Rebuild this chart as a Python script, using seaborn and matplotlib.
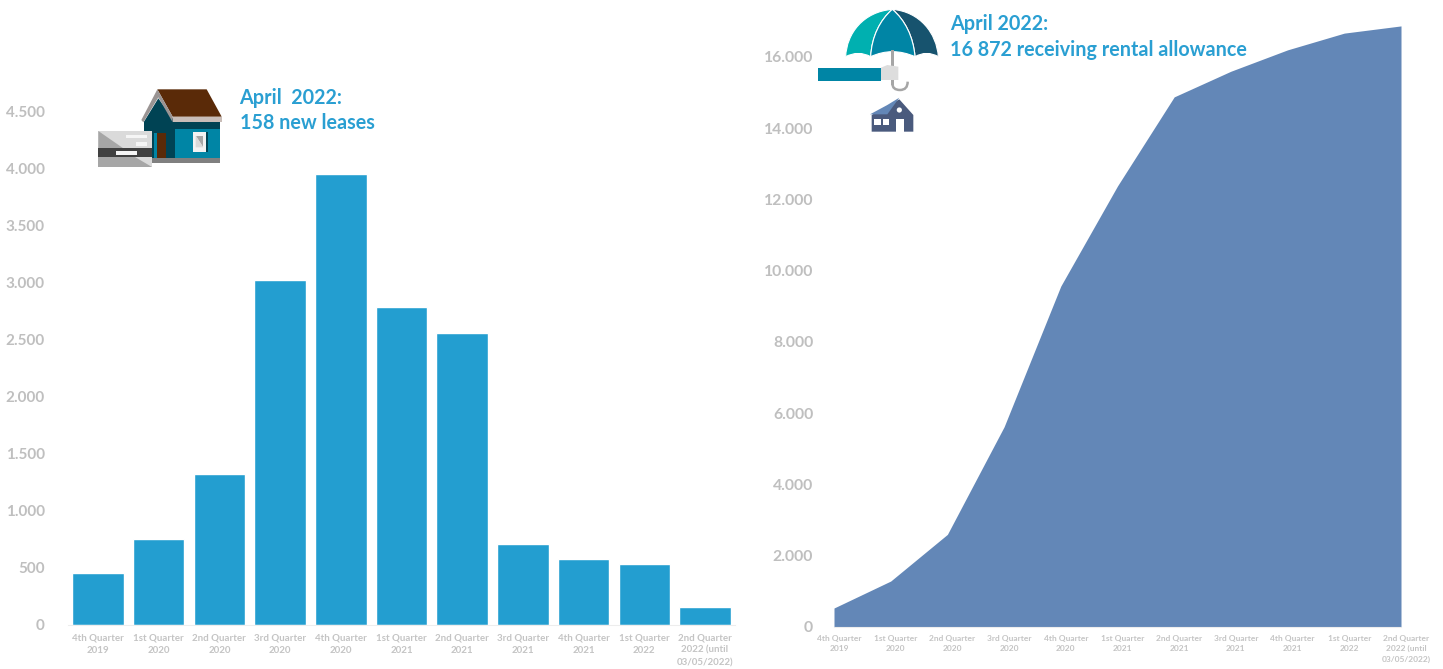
import numpy as np
import pandas as pd
import matplotlib
matplotlib.use("Agg")
import matplotlib.pyplot as plt
import seaborn as sns
from matplotlib.patches import Polygon, PathPatch, Circle
from matplotlib.path import Path
from matplotlib.transforms import ScaledTranslation

categories = ["4th Quarter\n2019", "1st Quarter\n2020", "2nd Quarter\n2020", "3rd Quarter\n2020",
              "4th Quarter\n2020", "1st Quarter\n2021", "2nd Quarter\n2021", "3rd Quarter\n2021",
              "4th Quarter\n2021", "1st Quarter\n2022", "2nd Quarter\n2022 (until\n03/05/2022)"]
new_leases = [455, 753, 1322, 3020, 3950, 2785, 2557, 709, 578, 534, 158]
allowance = [533, 1290, 2600, 5620, 9570, 12380, 14880, 15600, 16200, 16670, 16872]
left_ticks = [0, 500, 1000, 1500, 2000, 2500, 3000, 3500, 4000, 4500]
left_ticklabels = ["0", "500", "1.000", "1.500", "2.000", "2.500", "3.000", "3.500", "4.000", "4.500"]
right_ticks = [0, 2000, 4000, 6000, 8000, 10000, 12000, 14000, 16000]
right_ticklabels = ["0", "2.000", "4.000", "6.000", "8.000", "10.000", "12.000", "14.000", "16.000"]

W, H = 1443, 669
GREY = "#BFBFBF"
LABEL = "#C4C4C4"
BLUE = "#239ED0"
AREA = "#6387B7"
TXT = "#2A9FD2"

sns.set_theme(style="white")
plt.rcParams["font.family"] = ["Lato", "DejaVu Sans"]

fig = plt.figure(figsize=(W / 100, H / 100), dpi=100, facecolor="white")

def axes_px(x0, x1, ytop, ybot):
    return fig.add_axes([x0 / W, 1 - ybot / H, (x1 - x0) / W, (ybot - ytop) / H])

# ---- left chart
ax1 = axes_px(67.65, 735.35, 54, 625)
df = pd.DataFrame({"quarter": categories, "leases": new_leases})
sns.barplot(data=df, x="quarter", y="leases", color=BLUE, saturation=1, width=0.85, ax=ax1)
ax1.set_xlim(-0.5, 10.5)
ax1.set_ylim(0, 5000)
ax1.set_xlabel("")
ax1.set_ylabel("")
ax1.set_yticks(left_ticks, left_ticklabels)
ax1.set_xticks(np.arange(-0.5, 11, 1), minor=True)
ax1.tick_params(axis="x", which="major", length=0, pad=6, labelsize=7, labelcolor=LABEL)
ax1.tick_params(axis="x", which="minor", length=3, width=0.8, color="#EDEDED")
ax1.tick_params(axis="y", length=0, pad=16.5, labelsize=11, labelcolor=GREY)
for t in ax1.get_xticklabels():
    t.set_fontweight("bold")
    t.set_linespacing(1.5)
for t in ax1.get_yticklabels():
    t.set_fontweight("bold")

# ---- right chart
ax2 = axes_px(834, 1401, 21, 627)
xs = np.arange(len(categories))
sns.lineplot(x=xs, y=allowance, color=AREA, lw=0, ax=ax2)
ax2.fill_between(xs, allowance, 0, color=AREA, lw=0)
ax2.set_xlim(0, 10)
ax2.set_ylim(0, 17010)
ax2.set_yticks(right_ticks, right_ticklabels)
ax2.set_xticks(xs, categories)
ax2.tick_params(axis="x", length=3, width=0.8, color="#EDEDED", pad=2.5, labelsize=6, labelcolor=LABEL)
ax2.tick_params(axis="y", length=0, pad=15, labelsize=11.3, labelcolor=GREY)
shift = ScaledTranslation(5 / 100, 0, fig.dpi_scale_trans)
for t in ax2.get_xticklabels():
    t.set_fontweight("bold")
    t.set_linespacing(1.6)
    t.set_transform(t.get_transform() + shift)
for t in ax2.get_yticklabels():
    t.set_fontweight("bold")

for ax in (ax1, ax2):
    sns.despine(ax=ax, left=True)
    ax.spines["bottom"].set_color("#EDEDED")
    ax.spines["bottom"].set_linewidth(0.8)
    ax.patch.set_alpha(0)

# ---- overlay in pixel coordinates for the icons and captions
ov = fig.add_axes([0, 0, 1, 1], zorder=5)
ov.set_xlim(0, W)
ov.set_ylim(H, 0)
ov.axis("off")

def poly(org, pts, c, z=6):
    ov.add_patch(Polygon([(org[0] + x / 3, org[1] + y / 3) for x, y in pts], closed=True,
                         fc=c, ec="none", zorder=z))

def box(org, x0, y0, x1, y1, c, z=6):
    poly(org, [(x0, y0), (x1, y0), (x1, y1), (x0, y1)], c, z)

def curve(org, verts, codes, fc, ec="none", lw=0, z=6):
    v = [(org[0] + x / 3, org[1] + y / 3) for x, y in verts]
    ov.add_patch(PathPatch(Path(v, codes), fc=fc, ec=ec, lw=lw, zorder=z))

# house and card
o1 = (80, 70)
box(o1, 215, 264, 420, 278, "#808080")
poly(o1, [(192, 155), (235, 85), (285, 155), (285, 264), (192, 264)], "#004354")
box(o1, 285, 175, 420, 264, "#0085A5")
box(o1, 278, 155, 420, 178, "#004354")
poly(o1, [(232, 58), (380, 58), (425, 140), (278, 140)], "#5A2A08")
box(o1, 278, 140, 425, 157, "#C9BDB8")
poly(o1, [(232, 58), (278, 140), (278, 157), (235, 82), (190, 157), (184, 150)], "#9A9493")
box(o1, 222, 188, 232, 264, "#0085A5")
box(o1, 232, 188, 258, 264, "#5A2A08")
box(o1, 340, 185, 378, 245, "#F2F2F2")
box(o1, 378, 185, 384, 245, "#004354")
poly(o1, [(347, 197), (370, 197), (370, 232)], "#A6A6A6")
poly(o1, [(347, 197), (370, 232), (347, 232)], "#D9D9D9")
box(o1, 55, 183, 215, 235, "#DADADA", 7)
poly(o1, [(55, 183), (130, 235), (55, 235)], "#A6A6A6", 7)
box(o1, 138, 195, 200, 205, "#F5F5F5", 7)
box(o1, 168, 215, 200, 228, "#F5F5F5", 7)
box(o1, 55, 235, 215, 262, "#404040", 7)
box(o1, 108, 243, 170, 255, "#F5F5F5", 7)
box(o1, 55, 262, 215, 290, "#A6A6A6", 7)
poly(o1, [(165, 262), (215, 262), (215, 290)], "#DADADA", 7)

# umbrella
o2 = (800, 0)
C4, C3, M = Path.CURVE4, Path.CURVE3, Path.MOVETO
curve(o2, [(277, 28), (190, 35), (140, 100), (137, 170), (175, 150), (212, 170), (215, 110), (240, 60), (277, 28)],
      [M, C4, C4, C4, C3, C3, C4, C4, C4], "#00B0B0", "white", 0.8)
curve(o2, [(277, 28), (360, 35), (410, 100), (415, 170), (380, 150), (345, 170), (340, 110), (315, 60), (277, 28)],
      [M, C4, C4, C4, C3, C3, C4, C4, C4], "#17536E", "white", 0.8)
curve(o2, [(277, 28), (240, 60), (215, 110), (212, 170), (277, 140), (345, 170), (340, 110), (315, 60), (277, 28)],
      [M, C4, C4, C4, C3, C3, C4, C4, C4], "#0085A5", "white", 0.8)
box(o2, 273, 150, 281, 255, "#A6A6A6")
curve(o2, [(277, 250), (277, 270), (300, 270), (323, 270), (323, 245)], [M, C3, C3, C3, C3], "none", "#A6A6A6", 1.8)
box(o2, 54, 204, 243, 242, "#0085A5")
poly(o2, [(243, 203), (262, 195), (295, 200), (295, 240), (243, 240)], "#DDDDDD", 7)
poly(o2, [(215, 345), (298, 298), (340, 345), (340, 395), (215, 395)], "#4A5A7D")
poly(o2, [(210, 343), (262, 315), (298, 293), (262, 343)], AREA, 7)
box(o2, 223, 358, 243, 375, "white", 7)
box(o2, 250, 358, 268, 375, "white", 7)
box(o2, 288, 358, 312, 395, "white", 7)
ov.add_patch(Circle((800 + 298 / 3, 330 / 3), 2.6, fc="white", ec="none", zorder=7))

cap = dict(color=TXT, fontsize=14.2, fontweight="bold", va="baseline", ha="left", zorder=8)
ov.text(239.5, 104, "April  2022:", **cap)
ov.text(239.5, 129, "158 new leases", **cap)
ov.text(950, 30, "April 2022:", **cap)
ov.text(950, 56, "16 872 receiving rental allowance", **cap)

fig.savefig("out.png", dpi=100, facecolor="white")
